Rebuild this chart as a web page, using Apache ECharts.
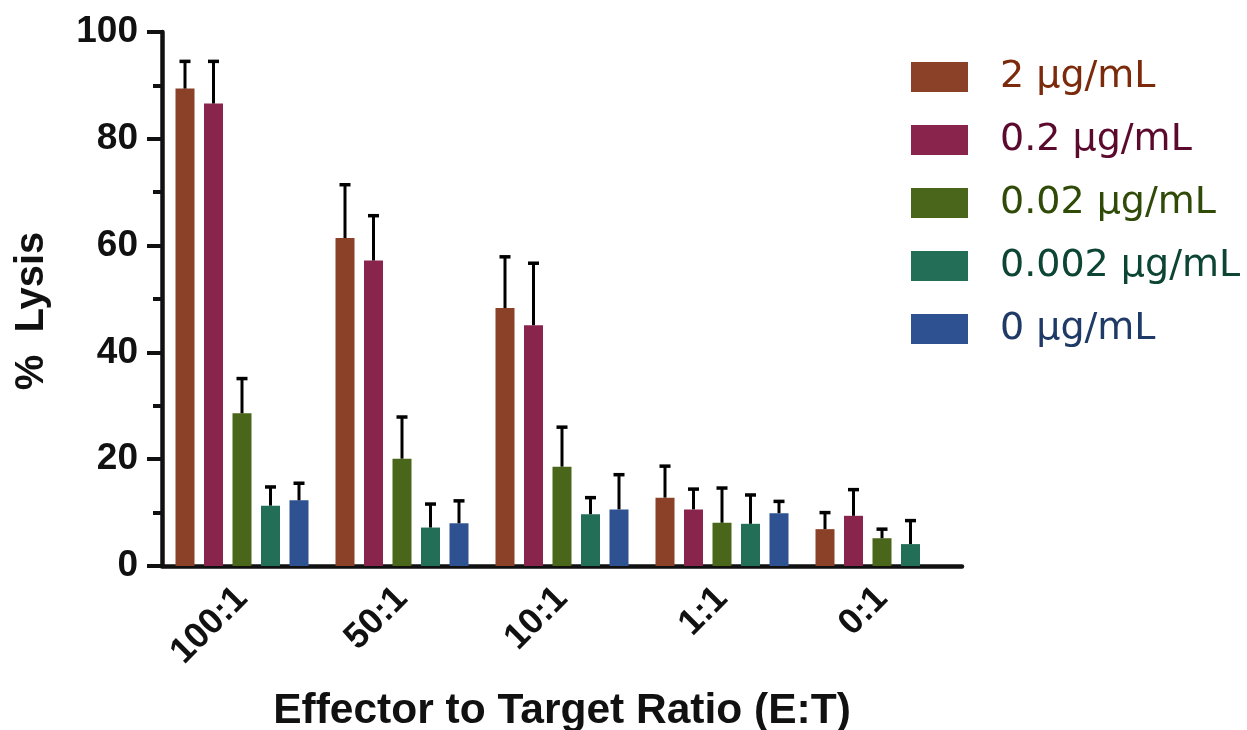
<!DOCTYPE html>
<html>
<head>
<meta charset="utf-8">
<script src="https://cdn.jsdelivr.net/npm/echarts@6/dist/echarts.min.js"></script>
<style>html,body{margin:0;padding:0;background:#fff}#c{width:1247px;height:730px}</style>
</head>
<body>
<div id="c"></div>
<script>
const categories = ['100:1', '50:1', '10:1', '1:1', '0:1'];
const seriesNames = ['2 μg/mL', '0.2 μg/mL', '0.02 μg/mL', '0.002 μg/mL', '0 μg/mL'];
const mean2 = [89.4, 61.4, 48.3, 12.8, 6.9];
const sd2 = [5.1, 10.0, 9.6, 5.9, 3.1];
const mean02 = [86.6, 57.2, 45.1, 10.6, 9.4];
const sd02 = [7.9, 8.4, 11.6, 3.8, 4.9];
const mean002 = [28.6, 20.1, 18.6, 8.1, 5.2];
const sd002 = [6.5, 7.8, 7.4, 6.5, 1.7];
const mean0002 = [11.3, 7.2, 9.7, 7.9, 4.1];
const sd0002 = [3.5, 4.4, 3.1, 5.4, 4.4];
const mean0 = [12.3, 8.0, 10.6, 9.9, null];
const sd0 = [3.2, 4.2, 6.5, 2.2, null];
const yTicks = [0, 20, 40, 60, 80, 100];

const means = [mean2, mean02, mean002, mean0002, mean0];
const sds = [sd2, sd02, sd002, sd0002, sd0];
const barColors = ['#8B4127', '#89244D', '#4A661A', '#226E56', '#2E5291'];
const textColors = ['#7B2A0C', '#5B0A2E', '#304A08', '#0D4535', '#1F3A66'];
const BAR_W = 19, GAP = 9.5;
const FONT = '"Liberation Sans", Arial, Helvetica, sans-serif';

const series = [];
means.forEach((m, i) => {
  series.push({
    name: seriesNames[i], type: 'bar', data: m, barWidth: BAR_W, barGap: '50%',
    itemStyle: { color: barColors[i] }, silent: true, z: 2
  });
});
means.forEach((m, i) => {
  const d = m.map((v, k) => v == null ? null : [k, v, sds[i][k]]).filter(x => x);
  series.push({
    type: 'custom', silent: true, z: 3,
    data: d,
    renderItem: function (params, api) {
      const k = api.value(0), v = api.value(1), s = api.value(2);
      const off = (i - 2) * (BAR_W + GAP);
      const p0 = api.coord([k, v]);
      const p1 = api.coord([k, v + s]);
      const x = p0[0] + off;
      return {
        type: 'group', children: [
          { type: 'line', shape: { x1: x, y1: p0[1], x2: x, y2: p1[1] }, style: { stroke: '#000', lineWidth: 3 } },
          { type: 'line', shape: { x1: x - 5.5, y1: p1[1], x2: x + 5.5, y2: p1[1] }, style: { stroke: '#000', lineWidth: 3.5 } }
        ]
      };
    }
  });
});

const chart = echarts.init(document.getElementById('c'));
chart.setOption({
  animation: false,
  backgroundColor: '#fff',
  grid: { left: 162, right: 285, top: 32, bottom: 164, containLabel: false, outerBoundsMode: 'none' },
  legend: {
    orient: 'vertical', left: 911, top: 58, padding: 0,
    itemWidth: 57, itemHeight: 30, itemGap: 25,
    icon: 'rect',
    data: seriesNames.map((n, i) => ({ name: n, textStyle: { color: textColors[i] } })),
    textStyle: { fontFamily: '"DejaVu Sans", sans-serif', fontSize: 38, padding: [0, 0, 0, 27] }
  },
  xAxis: {
    type: 'category', data: categories,
    name: 'Effector to Target Ratio (E:T)', nameLocation: 'middle', nameGap: 124,
    nameTextStyle: { fontFamily: FONT, fontWeight: 'bold', fontSize: 42.5, color: '#111' },
    axisLine: { lineStyle: { color: '#111', width: 4.5 } },
    axisTick: { alignWithLabel: true, length: 16, lineStyle: { color: '#111', width: 4 } },
    axisLabel: { rotate: 45, margin: 27, fontFamily: FONT, fontWeight: 'bold', fontSize: 36, color: '#111' },
    splitLine: { show: false }
  },
  yAxis: {
    type: 'value', min: 0, max: 100, interval: 20,
    name: '%  Lysis', nameLocation: 'middle', nameGap: 110, nameRotate: 90,
    nameTextStyle: { fontFamily: FONT, fontWeight: 'bold', fontSize: 40, color: '#111', padding: [0, 24, 0, 0] },
    axisLine: { show: true, lineStyle: { color: '#111', width: 4.5 } },
    axisTick: { show: true, length: 15, lineStyle: { color: '#111', width: 4 } },
    minorTick: { show: true, splitNumber: 2, length: 9, lineStyle: { color: '#111', width: 4 } },
    axisLabel: {
      margin: 24, fontFamily: FONT, fontWeight: 'bold', fontSize: 37, color: '#111',
      formatter: v => yTicks.includes(v) ? String(v) : ''
    },
    splitLine: { show: false }
  },
  series: series
});
</script>
</body>
</html>
